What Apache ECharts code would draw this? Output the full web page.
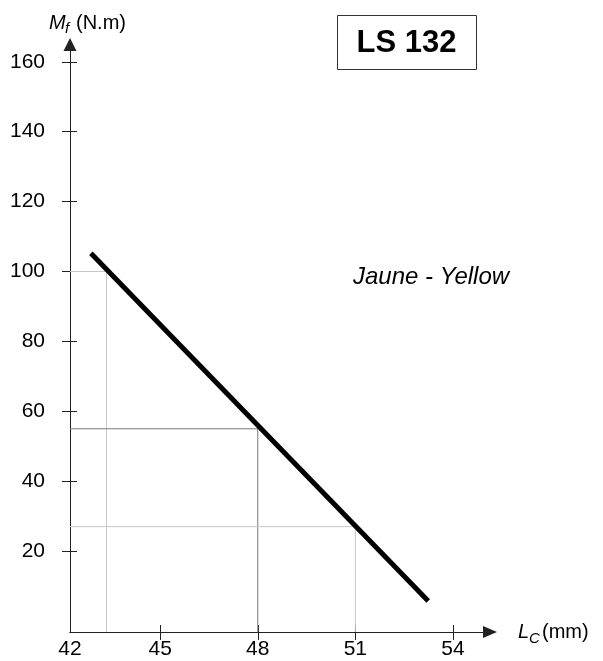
<!DOCTYPE html>
<html><head><meta charset="utf-8">
<script src="https://cdn.jsdelivr.net/npm/echarts@6/dist/echarts.min.js"></script>
<style>html,body{margin:0;padding:0;background:#fff}#c{width:603px;height:661px}</style>
</head><body><div id="c"></div>
<script>
// ---- data ----
const lineX = [42.87, 53.24];
const lineY = [105.2, 5.7];
const guideX = [43.35, 48, 51];
const guideY = [100, 55, 27];
const xTicks = [45, 48, 51, 54];
const yTicks = [20, 40, 60, 80, 100, 120, 140, 160];
const xOriginLabel = '42';
const xMin = 42.227, xMax = 55.14, yMin = -3.15, yMax = 164.95;

const FF = '"Liberation Sans", Arial, Helvetica, sans-serif';
const AX = '#222';
const guideColors = ['#c8c8c8', '#7a7a7a', '#c8c8c8'];

const chart = echarts.init(document.getElementById('c'), null, {renderer: 'canvas'});

const series = [];
guideX.forEach((gx, i) => {
  series.push({
    type: 'line', xAxisIndex: 0, yAxisIndex: 0, silent: true, symbol: 'none', z: 1,
    lineStyle: {color: guideColors[i], width: 1},
    data: [[xMin, guideY[i]], [gx, guideY[i]], [gx, yMin]]
  });
});
series.push({
  type: 'line', xAxisIndex: 0, yAxisIndex: 0, silent: true, symbol: 'none', z: 3,
  lineStyle: {color: '#000', width: 5, cap: 'butt'},
  data: lineX.map((x, i) => [x, lineY[i]])
});
// invisible series bound to the tick-only overlay grid
series.push({type: 'line', xAxisIndex: 1, yAxisIndex: 1, data: [[xMin, yMin]], symbol: 'none', silent: true, lineStyle: {opacity: 0}});

const gridBox = {left: 70, right: 113, top: 44.5, bottom: 29, containLabel: false, outerBoundsMode: 'none'};

const option = {
  animation: false,
  backgroundColor: '#fff',
  grid: [Object.assign({}, gridBox), Object.assign({}, gridBox)],
  xAxis: [
    {gridIndex: 0, type: 'value', min: xMin, max: xMax, position: 'bottom',
     axisLine: {onZero: false, lineStyle: {color: AX, width: 1}, symbol: ['none', 'triangle'], symbolSize: [12, 14]},
     splitLine: {show: false},
     axisTick: {customValues: xTicks, inside: false, length: 8, lineStyle: {color: AX}},
     axisLabel: {customValues: [xMin].concat(xTicks), formatter: v => (Math.abs(v - xMin) < 1e-6 ? xOriginLabel : String(Math.round(v))),
                 fontSize: 21, color: '#000', margin: 7, fontFamily: FF}},
    {gridIndex: 1, type: 'value', min: xMin, max: xMax, position: 'bottom',
     axisLine: {show: true, onZero: false, lineStyle: {color: AX, width: 1}}, splitLine: {show: false},
     axisTick: {show: true, customValues: xTicks, inside: true, length: 7, lineStyle: {color: AX, width: 1}},
     axisLabel: {show: false}}
  ],
  yAxis: [
    {gridIndex: 0, type: 'value', min: yMin, max: yMax, position: 'left',
     axisLine: {onZero: false, lineStyle: {color: AX, width: 1}, symbol: ['none', 'triangle'], symbolSize: [13, 13]},
     splitLine: {show: false},
     axisTick: {customValues: yTicks, inside: false, length: 8, lineStyle: {color: AX}},
     axisLabel: {customValues: yTicks, fontSize: 21, color: '#000', margin: 25, fontFamily: FF, padding: [6, 0, 0, 0]}},
    {gridIndex: 1, type: 'value', min: yMin, max: yMax, position: 'left',
     axisLine: {show: true, onZero: false, lineStyle: {color: AX, width: 1}}, splitLine: {show: false},
     axisTick: {show: true, customValues: yTicks, inside: true, length: 7, lineStyle: {color: AX, width: 1}},
     axisLabel: {show: false}}
  ],
  series: series,
  graphic: [
    {type: 'rect', shape: {x: 337.5, y: 15.5, width: 139, height: 54}, style: {fill: '#fff', stroke: '#333', lineWidth: 1}, z: 10},
    {type: 'text', x: 406.5, y: 43, z: 11, style: {text: 'LS 132', font: 'bold 31px ' + FF, fill: '#000', align: 'center', verticalAlign: 'middle'}},
    {type: 'text', x: 353, y: 277, z: 11, style: {text: 'Jaune - Yellow', font: 'italic 24px ' + FF, fill: '#000', align: 'left', verticalAlign: 'middle'}},
    {type: 'text', x: 49, y: 23, z: 11, style: {text: 'M', font: 'italic 20px ' + FF, fill: '#000', align: 'left', verticalAlign: 'middle'}},
    {type: 'text', x: 65, y: 29, z: 11, style: {text: 'f', font: 'italic 15px ' + FF, fill: '#000', align: 'left', verticalAlign: 'middle'}},
    {type: 'text', x: 76, y: 23, z: 11, style: {text: '(N.m)', font: '20px ' + FF, fill: '#000', align: 'left', verticalAlign: 'middle'}},
    {type: 'text', x: 518, y: 632, z: 11, style: {text: 'L', font: 'italic 20px ' + FF, fill: '#000', align: 'left', verticalAlign: 'middle'}},
    {type: 'text', x: 529, y: 639, z: 11, style: {text: 'C', font: 'italic 15px ' + FF, fill: '#000', align: 'left', verticalAlign: 'middle'}},
    {type: 'text', x: 542, y: 632, z: 11, style: {text: '(mm)', font: '20px ' + FF, fill: '#000', align: 'left', verticalAlign: 'middle'}}
  ]
};
chart.setOption(option);
</script>
</body></html>
